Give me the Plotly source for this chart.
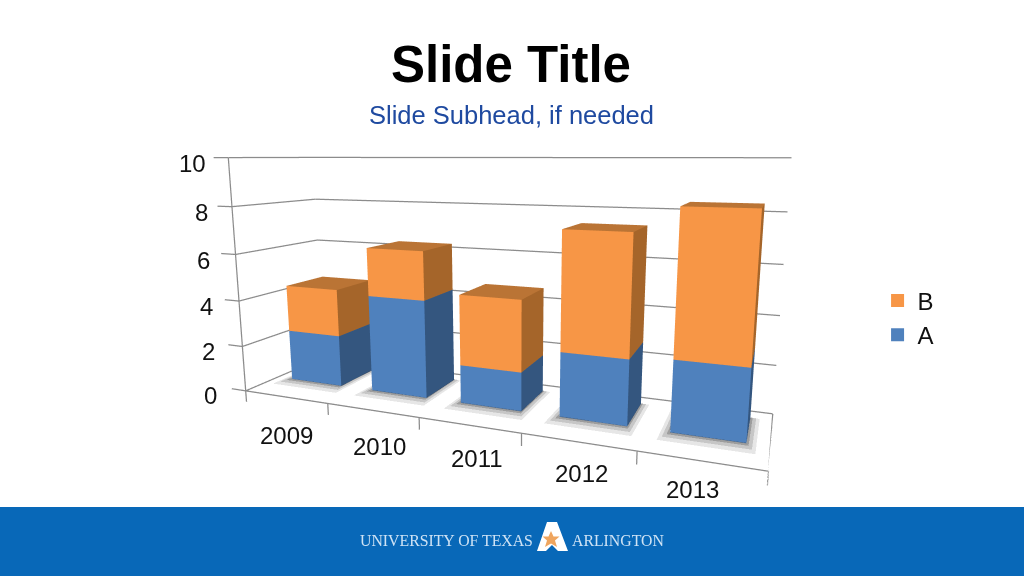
import plotly.graph_objects as go

years = ["2009", "2010", "2011", "2012", "2013"]
series_a = [2.28, 4.20, 1.62, 2.63, 2.80]
series_b = [2.07, 2.06, 2.95, 4.75, 5.54]
z_ticks = [0, 2, 4, 6, 8, 10]
AXIS = "#8c8c8c"
FONT = "Liberation Sans"
GX, GY0, GY1 = 0.1872, 0.3788, 0.8543
YEAR_NUDGE = [1, 7, 8, 4, -8]

X_MIN, Z_MIN, Z_MAX = -0.2, -0.6, 10.2
EYE = dict(x=0.52, y=-1.1854, z=0.2447)
CENTER = dict(x=0.0505, y=0.0026, z=0.0029)
ASPECT = dict(x=1.04, y=0.2571, z=0.5035)

FLAT = dict(ambient=1, diffuse=0, specular=0, fresnel=0, roughness=1)


def box(x0, x1, y0, y1, z0, z1, front, side, top, name):
    xs = [x0, x1, x1, x0, x0, x1, x1, x0]
    ys = [y0, y0, y1, y1, y0, y0, y1, y1]
    zs = [z0, z0, z0, z0, z1, z1, z1, z1]
    i = [0, 0, 1, 1, 4, 4]
    j = [1, 5, 2, 6, 5, 6]
    k = [5, 4, 6, 5, 6, 7]
    col = [front, front, side, side, top, top]
    return go.Mesh3d(x=xs, y=ys, z=zs, i=i, j=j, k=k, facecolor=col, flatshading=True, lighting=FLAT,
                     hoverinfo="skip", showlegend=False, name=name, showscale=False)


def floor_quad(x0, x1, y0, y1, z, op):
    return go.Mesh3d(x=[x0, x1, x1, x0], y=[y0, y0, y1, y1], z=[z] * 4, i=[0, 0], j=[1, 2], k=[2, 3],
                     color="#333333", opacity=op, flatshading=True, lighting=FLAT,
                     hoverinfo="skip", showlegend=False)


def line3d(x, y, z):
    return go.Scatter3d(x=x, y=y, z=z, mode="lines", line=dict(color=AXIS, width=2.5),
                        hoverinfo="skip", showlegend=False)


fig = go.Figure()

n = len(years)
fig.add_trace(line3d([0, n, n], [0, 0, 1], [0, 0, 0]))
fig.add_trace(line3d([0, 0], [0, 0], [0, z_ticks[-1]]))
for t in range(n + 1):
    fig.add_trace(line3d([t, t], [0, 0], [0, -0.5]))
for v in z_ticks:
    fig.add_trace(line3d([-0.18, 0, 0, n], [0, 0, 1, 1], [v, v, v, v]))

for idx in range(n):
    for k, (px_, py_, op) in enumerate([(0.08, 0.16, 0.12), (0.05, 0.10, 0.18), (0.02, 0.05, 0.28)]):
        fig.add_trace(floor_quad(idx + GX - px_, idx + 1 - GX + px_, GY0 - py_, GY1, 0.01 + 0.01 * k, op))

for idx, (a, b) in enumerate(zip(series_a, series_b)):
    fig.add_trace(box(idx + GX, idx + 1 - GX, GY0, GY1, 0, a, "#4F81BD", "#34567F", "#3F6797", "A"))
    fig.add_trace(box(idx + GX, idx + 1 - GX, GY0, GY1, a, a + b, "#F79646", "#A5652A", "#BA7435", "B"))

fig.add_trace(go.Scatter3d(x=[None], y=[None], z=[None], mode="markers", name="B",
                           marker=dict(symbol="square", size=13, color="#F79646")))
fig.add_trace(go.Scatter3d(x=[None], y=[None], z=[None], mode="markers", name="A",
                           marker=dict(symbol="square", size=13, color="#4F81BD")))

annots = []
for t, y in enumerate(years):
    annots.append(dict(x=t + 0.5, y=0, z=0, text=y, showarrow=False, yshift=-39 + 2.6 * t, xshift=YEAR_NUDGE[t],
                       font=dict(size=24, color="#111111", family=FONT)))
for v in z_ticks:
    annots.append(dict(x=0, y=0, z=v, text=str(v), showarrow=False, xanchor="right",
                       xshift=-27 + 0.65 * v, yshift=-5 - 0.1 * v,
                       font=dict(size=24, color="#111111", family=FONT)))


def ax(**kw):
    base = dict(showgrid=False, zeroline=False, showline=False, showticklabels=False, ticks="",
                showspikes=False, showbackground=False, title=dict(text=""))
    base.update(kw)
    return base


W, H = 1024, 576


def path(points):
    return "M" + "L".join(f"{a / W:.5f},{1 - b / H:.5f}" for a, b in points) + "Z"


A_MARK = [(537, 551), (547, 522), (557, 522), (568, 551), (558, 551), (552, 545), (546, 551)]
STAR = [(551, 531), (553.5, 536.5), (559.5, 536.5), (555, 540.5), (557, 547), (551, 543.5), (545, 547), (547, 540.5), (542.5, 536.5), (548.5, 536.5)]

fig.update_layout(
    width=W, height=H, margin=dict(l=0, r=0, t=0, b=0), paper_bgcolor="white",
    font=dict(family=FONT),
    scene=dict(
        domain=dict(x=[0, 1], y=[0, 1]), aspectmode="manual", aspectratio=ASPECT,
        camera=dict(eye=EYE, center=CENTER, up=dict(x=0, y=0, z=1), projection=dict(type="perspective")),
        xaxis=ax(range=[X_MIN, n]), yaxis=ax(range=[0, 1]),
        zaxis=ax(range=[Z_MIN, Z_MAX]),
        annotations=annots, dragmode=False, bgcolor="rgba(0,0,0,0)",
    ),
    legend=dict(x=0.857, y=0.448, xanchor="left", yanchor="middle", font=dict(size=24, color="#111111"),
                bgcolor="rgba(0,0,0,0)", itemwidth=30),
    shapes=[
        dict(type="rect", xref="paper", yref="paper", x0=0, x1=1, y0=0, y1=1 - 507 / H, fillcolor="#0868B8", line_width=0, layer="below"),
        dict(type="path", xref="paper", yref="paper", path=path(A_MARK), fillcolor="white", line_width=0),
        dict(type="path", xref="paper", yref="paper", path=path(STAR), fillcolor="#EFA55E", line_width=0),
    ],
    annotations=[
        dict(xref="paper", yref="paper", x=511 / W, y=1 - 64 / H, yanchor="middle", text="<b>Slide Title</b>", showarrow=False,
             font=dict(size=51, color="black", family=FONT)),
        dict(xref="paper", yref="paper", x=511 / W, y=1 - 115 / H, yanchor="middle", text="Slide Subhead, if needed", showarrow=False,
             font=dict(size=25.5, color="#1F4AA0", family=FONT)),
        dict(xref="paper", yref="paper", x=535 / W, y=1 - 540 / H, xanchor="right", yanchor="middle", text="UNIVERSITY OF TEXAS", showarrow=False,
             font=dict(size=15.8, color="#CFE3F5", family="Liberation Serif")),
        dict(xref="paper", yref="paper", x=570 / W, y=1 - 540 / H, xanchor="left", yanchor="middle", text="ARLINGTON", showarrow=False,
             font=dict(size=15.8, color="#CFE3F5", family="Liberation Serif")),
    ],
)

fig.write_html("out.html", config=dict(displayModeBar=False), post_script="document.body.style.margin='0';")
